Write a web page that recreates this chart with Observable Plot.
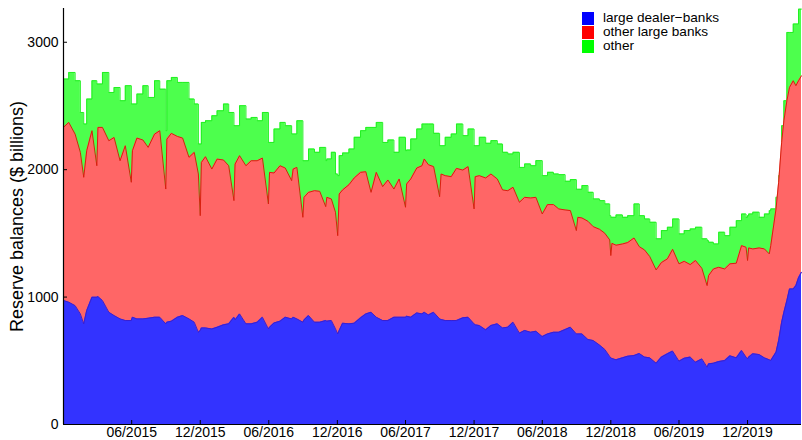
<!DOCTYPE html>
<html><head><meta charset="utf-8">
<script src="https://cdn.jsdelivr.net/npm/d3@7"></script>
<script src="https://cdn.jsdelivr.net/npm/@observablehq/plot@0.6"></script>
<style>
body{margin:0;background:#fff;}
#wrap{position:relative;width:802px;height:440px;font-family:"Liberation Sans",Arial,Helvetica,sans-serif;}
#legend{position:absolute;left:582px;top:12px;font-size:13.6px;color:#000;}
.row{position:relative;height:13.8px;}
.sw{position:absolute;left:0;top:0;width:12px;height:13.4px;}
.lab{position:absolute;left:21px;top:-1px;line-height:14px;white-space:nowrap;}
</style></head><body><div id="wrap"><div id="legend"></div></div>
<script>
const dates = [
"2014-12-01","2014-12-15","2015-01-01","2015-01-15","2015-01-24","2015-02-01","2015-02-15","2015-02-28","2015-03-03","2015-03-15","2015-04-01","2015-04-15","2015-05-01","2015-05-15","2015-05-31","2015-06-03","2015-06-15","2015-07-01","2015-07-15","2015-08-01","2015-08-15","2015-08-31","2015-09-03","2015-09-15","2015-10-01","2015-10-15","2015-11-01","2015-11-15","2015-11-26","2015-12-01","2015-12-04","2015-12-15",
"2016-01-01","2016-01-15","2016-02-01","2016-02-15","2016-02-29","2016-03-03","2016-03-15","2016-04-01","2016-04-15","2016-05-01","2016-05-15","2016-05-31","2016-06-03","2016-06-15","2016-07-01","2016-07-15","2016-08-01","2016-08-05","2016-08-15","2016-08-31","2016-09-03","2016-09-15","2016-10-01","2016-10-15","2016-10-31","2016-11-03","2016-11-15","2016-11-26","2016-12-02","2016-12-06","2016-12-15",
"2017-01-01","2017-01-15","2017-02-01","2017-02-15","2017-03-01","2017-03-15","2017-04-01","2017-04-15","2017-05-01","2017-05-15","2017-06-01","2017-06-04","2017-06-15","2017-07-01","2017-07-15","2017-07-21","2017-08-01","2017-08-15","2017-08-31","2017-09-04","2017-09-15","2017-10-01","2017-10-15","2017-11-01","2017-11-15","2017-12-01","2017-12-04","2017-12-15",
"2018-01-01","2018-01-15","2018-02-01","2018-02-15","2018-03-01","2018-03-15","2018-04-01","2018-04-15","2018-05-01","2018-05-15","2018-06-01","2018-06-15","2018-07-01","2018-07-15","2018-08-01","2018-08-15","2018-08-31","2018-09-04","2018-09-15","2018-10-01","2018-10-15","2018-11-01","2018-11-15","2018-11-28","2018-12-01","2018-12-04","2018-12-15",
"2019-01-01","2019-01-15","2019-02-01","2019-02-15","2019-03-01","2019-03-15","2019-04-01","2019-04-15","2019-05-01","2019-05-15","2019-06-01","2019-06-15","2019-07-01","2019-07-15","2019-08-01","2019-08-15","2019-08-19","2019-09-01","2019-09-15","2019-10-01","2019-10-15","2019-11-01","2019-11-15","2019-11-27","2019-12-01","2019-12-04","2019-12-15",
"2020-01-01","2020-01-15","2020-01-28","2020-02-01","2020-02-15","2020-02-22","2020-03-01","2020-03-07","2020-03-15","2020-03-22","2020-04-01","2020-04-08","2020-04-15","2020-04-23"];

// large dealer-banks ($ billions)
const dealer = [
973,960,933,868,790,894,999,999,1004,973,881,855,829,816,816,842,829,829,834,842,842,790,803,811,842,855,829,803,724,737,758,758,
750,763,782,790,842,821,868,790,790,803,842,750,763,797,811,842,829,842,829,803,821,855,803,803,816,811,816,751,711,738,795,
790,795,837,868,881,842,816,816,842,842,842,850,842,876,868,881,860,881,829,824,816,816,816,837,842,790,782,777,
743,777,790,758,764,803,717,738,724,732,690,711,724,724,745,764,711,711,711,667,659,623,589,534,523,518,508,
523,536,541,557,529,523,481,529,555,576,497,520,529,489,515,450,476,481,494,502,539,523,581,529,515,529,555,
549,523,508,502,568,659,803,881,973,1064,1064,1090,1151,1195];

// other large banks ($ billions)
const otherLarge = [
1359,1411,1346,1268,1150,1255,1307,1032,1328,1359,1346,1398,1241,1372,1085,1307,1419,1404,1341,1437,1464,1058,1437,1474,1419,1393,1268,1333,1242,902,1299,1344,
1255,1320,1294,1241,915,1223,1242,1241,1280,1267,1249,981,1216,1177,1220,1171,1085,1163,1189,823,962,967,1032,1027,894,972,954,915,771,1071,1046,
1092,1140,1142,1116,941,1137,1051,1103,1006,1085,863,1038,1085,1137,1163,1203,1179,1143,959,1142,1137,1129,1194,1160,1182,902,1163,1176,
1192,1189,1137,1083,1071,1059,1027,1045,1054,1051,962,1015,1002,968,939,915,811,915,910,928,894,909,912,915,803,904,899,
894,892,923,839,841,795,732,742,745,799,764,761,726,798,711,640,693,740,740,719,722,743,823,862,772,857,823,
837,855,831,902,1124,1242,1412,1503,1568,1582,1634,1569,1547,1542];

// other ($ billions)
const other = [
379,392,419,313,418,405,392,641,340,431,379,392,471,471,614,366,345,426,392,419,326,458,458,439,424,437,457,379,235,562,314,282,
418,379,439,418,588,301,392,366,340,314,358,483,235,345,340,332,366,275,366,444,287,340,301,345,361,301,366,300,471,301,290,
280,319,327,348,510,392,347,314,288,327,444,266,314,306,327,274,319,261,400,222,301,335,348,270,295,496,243,301,
272,262,274,295,288,274,274,262,253,288,301,253,240,269,225,243,324,220,254,227,217,225,230,190,300,204,238,
209,211,267,243,243,269,244,251,248,238,235,241,280,261,231,353,261,196,275,261,287,334,248,235,352,266,288,
240,274,339,288,91,52,130,157,536,431,445,484,562,523];

const seriesNames = ["large dealer\u2212banks", "other large banks", "other"];
const legendColors = ["#0000ff", "#ff0000", "#00ff00"];
const xTickLabels = ["2015-06-01","2015-12-01","2016-06-01","2016-12-01","2017-06-01","2017-12-01","2018-06-01","2018-12-01","2019-06-01","2019-12-01"];
const yTicks = [0, 1000, 2000, 3000];
const yLabel = "Reserve balances ($ billions)";
const xDomain = [new Date("2014-12-01"), new Date("2020-04-23")];

const xTickDates = xTickLabels.map(d => new Date(d));
const rows = dates.map((d, i) => {
  const b = dealer[i], r = b + otherLarge[i], g = r + other[i];
  return {date: new Date(d), b, r, g};
});

const FONT = '"Liberation Sans", Arial, Helvetica, sans-serif';
const chart = Plot.plot({
  width: 802, height: 440,
  marginLeft: 63, marginRight: 1, marginTop: 8, marginBottom: 16,
  style: {fontFamily: FONT, fontSize: "14px", background: "transparent", color: "#000", overflow: "visible"},
  x: {type: "utc", domain: xDomain, ticks: xTickDates, tickFormat: d3.utcFormat("%m/%Y"), tickSize: 0, tickPadding: 3, label: null},
  y: {domain: [0, 3265], ticks: yTicks, tickFormat: d => String(d), tickSize: 0, tickPadding: 5, label: null},
  marks: [
    Plot.areaY(rows, {x: "date", y1: 0, y2: "g", fill: "#4dff4d", curve: "step-after"}),
    Plot.lineY(rows, {x: "date", y: "g", stroke: "#22f022", strokeWidth: 1, curve: "step-after"}),
    Plot.areaY(rows, {x: "date", y1: 0, y2: "r", fill: "#ff6666"}),
    Plot.lineY(rows, {x: "date", y: "r", stroke: "#d8200e", strokeWidth: 1}),
    Plot.areaY(rows, {x: "date", y1: 0, y2: "b", fill: "#3333ff"}),
    Plot.lineY(rows, {x: "date", y: "b", stroke: "#3b1fcf", strokeWidth: 1}),
    Plot.ruleY([0], {stroke: "#000", strokeWidth: 1.2}),
    Plot.ruleX([xDomain[0]], {stroke: "#000", strokeWidth: 1.2}),
    Plot.ruleX(xTickDates, {stroke: "#000", insetTop: 412}),
    Plot.ruleY(yTicks, {stroke: "#000", insetRight: 734}),
    Plot.text([yLabel], {text: d => d, frameAnchor: "left", dx: -46, rotate: -90, fontSize: 18, textAnchor: "middle", fill: "#000"})
  ]
});
const wrap = document.getElementById("wrap");
wrap.insertBefore(chart, wrap.firstChild);

const legend = document.getElementById("legend");
seriesNames.forEach((name, i) => {
  const row = document.createElement("div");
  row.className = "row";
  const sw = document.createElement("div");
  sw.className = "sw";
  sw.style.background = legendColors[i];
  const t = document.createElement("span");
  t.className = "lab";
  t.textContent = name;
  row.appendChild(sw); row.appendChild(t);
  legend.appendChild(row);
});
</script></body></html>
